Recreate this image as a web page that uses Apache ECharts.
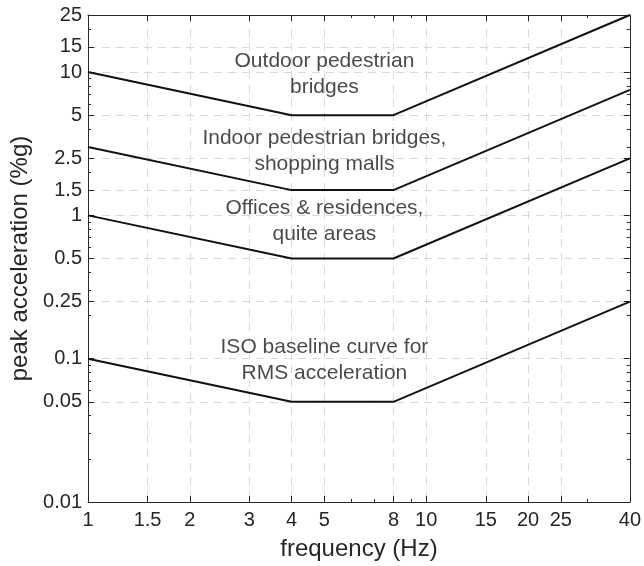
<!DOCTYPE html>
<html>
<head>
<meta charset="utf-8">
<script src="https://cdn.jsdelivr.net/npm/echarts@6/dist/echarts.min.js"></script>
<style>
  html, body { margin: 0; padding: 0; background: #fff; }
  #chart { width: 644px; height: 566px; }
</style>
</head>
<body>
<div id="chart"></div>
<script>
// frequency break points and the four vibration limit curves (peak acceleration, %g)
const freq = [1, 4, 8, 40];
const outdoorBridges = [10, 5, 5, 25];
const indoorBridges = [3, 1.5, 1.5, 7.5];
const offices = [1, 0.5, 0.5, 2.5];
const isoBaseline = [0.1, 0.05, 0.05, 0.25];

const xTicks = [1, 1.5, 2, 3, 4, 5, 8, 10, 15, 20, 25, 40];
const yTicks = [0.01, 0.05, 0.1, 0.25, 0.5, 1, 1.5, 2.5, 5, 10, 15, 25];
const xMinorTicks = [6, 7, 9, 30];
const yMinorTicks = [0.02, 0.03, 0.04, 0.06, 0.07, 0.08, 0.09, 0.2, 0.3, 0.4, 0.6, 0.7, 0.8, 0.9,
                     2, 3, 4, 6, 7, 8, 9, 20];

// curve labels: [freq, accel, text]
const notes = [
  [5, 9.7, 'Outdoor pedestrian\nbridges'],
  [5, 2.8, 'Indoor pedestrian bridges,\nshopping malls'],
  [5, 0.91, 'Offices & residences,\nquite areas'],
  [5, 0.097, 'ISO baseline curve for\nRMS acceleration']
];

const lg = Math.log10;
const axisColor = '#262626';
const font = 'Liberation Sans, Arial, sans-serif';

function fmt(v) {
  return String(Number(Math.pow(10, v).toPrecision(6)));
}

function makeAxis(min, max, ticks, position, minor, opts) {
  return Object.assign({
    type: 'value',
    min: min,
    max: max,
    position: position,
    axisLine: { show: !minor, onZero: false, lineStyle: { color: axisColor, width: 1 } },
    axisTick: { show: true, inside: true, length: minor ? 3 : 6, customValues: ticks.map(lg),
                lineStyle: { color: axisColor } },
    axisLabel: { show: false },
    splitLine: { show: false }
  }, opts || {});
}

const xMin = lg(freq[0]), xMax = lg(40);
const yMin = lg(0.01), yMax = lg(25);
const gridDash = { color: '#d9d9d9', type: [8, 6], width: 1 };

const xAxes = [
  makeAxis(xMin, xMax, xTicks, 'bottom', false, {
    name: 'frequency (Hz)',
    nameLocation: 'middle',
    nameGap: 35,
    nameTextStyle: { fontSize: 24, color: axisColor, fontFamily: font },
    axisLabel: { show: true, customValues: xTicks.map(lg), formatter: fmt, margin: 8,
                 fontSize: 20, color: axisColor, fontFamily: font },
    splitLine: { show: true, lineStyle: gridDash }
  }),
  makeAxis(xMin, xMax, xMinorTicks, 'bottom', true),
  makeAxis(xMin, xMax, xTicks, 'top', false),
  makeAxis(xMin, xMax, xMinorTicks, 'top', true)
];

const yAxes = [
  makeAxis(yMin, yMax, yTicks, 'left', false, {
    name: 'peak acceleration (%g)',
    nameLocation: 'middle',
    nameGap: 55,
    nameTextStyle: { fontSize: 24, color: axisColor, fontFamily: font },
    axisLabel: { show: true, customValues: yTicks.map(lg), formatter: fmt, margin: 6,
                 fontSize: 20, color: axisColor, fontFamily: font },
    splitLine: { show: true, lineStyle: gridDash }
  }),
  makeAxis(yMin, yMax, yMinorTicks, 'left', true),
  makeAxis(yMin, yMax, yTicks, 'right', false),
  makeAxis(yMin, yMax, yMinorTicks, 'right', true)
];

function curve(name, vals) {
  return {
    name: name,
    type: 'line',
    data: freq.map((f, i) => [lg(f), lg(vals[i])]),
    showSymbol: false,
    lineStyle: { color: '#111', width: 2 },
    silent: true,
    z: 5
  };
}

const chart = echarts.init(document.getElementById('chart'), null, { renderer: 'canvas' });
chart.setOption({
  animation: false,
  backgroundColor: '#fff',
  grid: { left: 88, right: 13, top: 15, bottom: 62, containLabel: false },
  xAxis: xAxes,
  yAxis: yAxes,
  series: [
    curve('Outdoor pedestrian bridges', outdoorBridges),
    curve('Indoor pedestrian bridges', indoorBridges),
    curve('Offices & residences', offices),
    curve('ISO baseline', isoBaseline),
    {
      type: 'scatter',
      data: notes.map(n => ({ value: [lg(n[0]), lg(n[1])], text: n[2] })),
      symbolSize: 0,
      silent: true,
      label: {
        show: true,
        position: 'inside',
        formatter: p => p.data.text,
        fontSize: 21,
        lineHeight: 26,
        color: '#1a1a1a',
        fontFamily: font,
        align: 'center',
        verticalAlign: 'middle'
      },
      z: 6
    }
  ]
});
</script>
</body>
</html>
